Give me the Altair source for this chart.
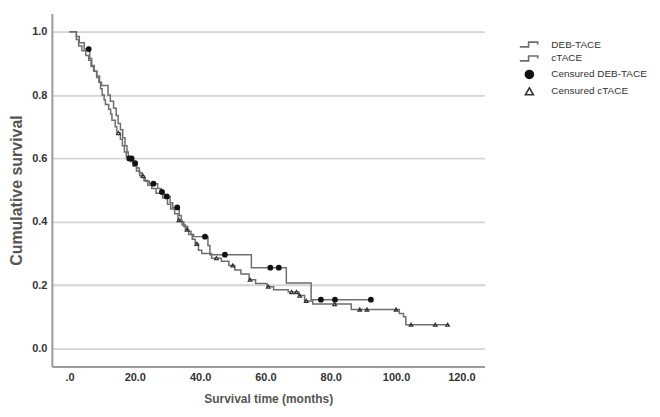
import altair as alt
import pandas as pd

# ---- Kaplan-Meier step data (time in months, cumulative survival) ----
deb_time = [0, 2.1, 3.0, 4.5, 6.2, 6.8, 7.6, 8.4, 9.2, 9.8, 11.8, 12.5, 13.5, 14.3, 14.9,
            15.6, 16.3, 17.0, 17.6, 18.0, 19.6, 20.6, 21.4, 22.2, 23.2, 24.5, 27.0, 28.0,
            29.0, 30.8, 31.6, 33.6, 34.2, 35.0, 36.2, 37.2, 38.0, 42.4, 43.0, 55.7, 66.4, 74.0]
deb_surv = [1.0, 0.985, 0.965, 0.945, 0.915, 0.893, 0.875, 0.86, 0.84, 0.83, 0.80, 0.78, 0.758,
            0.735, 0.71, 0.69, 0.665, 0.64, 0.62, 0.60, 0.585, 0.57, 0.555, 0.54, 0.528, 0.52,
            0.505, 0.494, 0.48, 0.46, 0.445, 0.42, 0.40, 0.385, 0.37, 0.36, 0.353, 0.325, 0.296,
            0.255, 0.207, 0.154]
deb_end = 92.3
deb_censor = [5.9, 18.3, 19.0, 20.1, 25.7, 28.3, 29.8, 33.0, 41.5, 47.6, 61.5, 64.1, 77.0, 81.3, 92.3]

ctace_time = [0, 2.1, 2.8, 3.8, 5.0, 5.9, 6.6, 7.4, 8.3, 9.0, 9.5, 10.0, 10.6, 11.0, 12.0, 12.6,
              13.0, 14.0, 14.5, 15.6, 16.2, 16.8, 17.4, 18.6, 19.5, 20.5, 21.5, 22.8, 24.0, 25.2,
              26.5, 28.5, 30.0, 31.0, 32.2, 33.2, 34.5, 35.5, 36.5, 37.6, 38.5, 39.5, 40.5, 43.5,
              46.5, 48.8, 50.6, 52.5, 55.0, 57.0, 60.5, 62.5, 67.0, 70.2, 72.0, 74.5, 86.3,
              101.0, 102.3, 103.0]
ctace_surv = [1.0, 0.975, 0.955, 0.94, 0.925, 0.91, 0.89, 0.875, 0.855, 0.84, 0.82, 0.80, 0.785,
              0.77, 0.755, 0.74, 0.72, 0.70, 0.68, 0.66, 0.64, 0.62, 0.605, 0.59, 0.575, 0.56,
              0.545, 0.53, 0.515, 0.505, 0.49, 0.475, 0.455, 0.44, 0.425, 0.405, 0.39, 0.375,
              0.36, 0.345, 0.33, 0.31, 0.30, 0.285, 0.275, 0.262, 0.248, 0.235, 0.217, 0.205,
              0.195, 0.185, 0.178, 0.167, 0.15, 0.14, 0.123, 0.11, 0.10, 0.075]
ctace_end = 115.8
ctace_censor = [15.0, 22.5, 33.5, 36.0, 39.0, 45.0, 50.0, 55.3, 60.9, 68.0, 69.5, 70.5, 72.5,
                81.2, 88.9, 91.1, 100.0, 104.6, 112.0, 115.8]

legend_labels = ["DEB-TACE", "cTACE", "Censured DEB-TACE", "Censured cTACE"]
x_ticks = [0, 20, 40, 60, 80, 100, 120]
y_ticks = [0.0, 0.2, 0.4, 0.6, 0.8, 1.0]


def lookup(times, survs, t):
    s = survs[0]
    for tt, ss in zip(times, survs):
        if tt <= t:
            s = ss
    return s


rows = []
for name, ts, ss, end in [("DEB-TACE", deb_time, deb_surv, deb_end),
                          ("cTACE", ctace_time, ctace_surv, ctace_end)]:
    for t, s in zip(ts, ss):
        rows.append({"group": name, "time": t, "surv": s})
    rows.append({"group": name, "time": end, "surv": ss[-1]})
lines_df = pd.DataFrame(rows)

prow = []
for t in deb_censor:
    prow.append({"legend": "Censured DEB-TACE", "time": t, "surv": lookup(deb_time, deb_surv, t), "sz": 20})
for t in ctace_censor:
    prow.append({"legend": "Censured cTACE", "time": t, "surv": lookup(ctace_time, ctace_surv, t), "sz": 12})
pts_df = pd.DataFrame(prow)

step_path = "M-2.4,0.6H-0.2V-0.6H2.1V0"

x_enc = alt.X("time:Q",
              scale=alt.Scale(domain=[-5.4, 127.1], nice=False, zero=False),
              axis=alt.Axis(values=x_ticks,
                            labelExpr="datum.value == 0 ? '.0' : format(datum.value, '.1f')",
                            grid=False, ticks=False, domainColor="#9a9a9a", domainWidth=2,
                            labelFont="Liberation Sans", labelFontWeight="bold", labelFontSize=11,
                            labelColor="#333333", labelPadding=5,
                            title="Survival time (months)", titleFont="Liberation Sans",
                            titleFontWeight="bold", titleFontSize=12, titleColor="#555555",
                            titlePadding=11))
y_enc = alt.Y("surv:Q",
              scale=alt.Scale(domain=[-0.057, 1.057], nice=False, zero=False),
              axis=alt.Axis(values=y_ticks, format=".1f", grid=True, gridColor="#d4d4d4",
                            gridWidth=1.8, ticks=False, domainColor="#9a9a9a", domainWidth=2,
                            labelFont="Liberation Sans", labelFontWeight="bold", labelFontSize=11,
                            labelColor="#333333", labelPadding=5,
                            title="Cumulative survival", titleFont="Liberation Sans",
                            titleFontWeight="bold", titleFontSize=16, titleColor="#555555",
                            titlePadding=7))

lines = alt.Chart(lines_df).mark_line(interpolate="step-after", color="#6e6e6e",
                                      strokeWidth=1.5).encode(
    x=x_enc, y=y_enc, detail="group:N")

leg = alt.Legend(title=None, orient="none", legendX=474, legendY=26, padding=0,
                 symbolSize=64, symbolStrokeWidth=1.6, labelOffset=17,
                 labelFont="Liberation Sans", labelFontSize=10, labelColor="#333333",
                 rowPadding=2)

points = alt.Chart(pts_df).mark_point(strokeWidth=1.3, opacity=1).encode(
    x=alt.X("time:Q"),
    y=alt.Y("surv:Q"),
    shape=alt.Shape("legend:N", scale=alt.Scale(domain=legend_labels,
                                                range=[step_path, step_path, "circle", "triangle-up"]),
                    legend=leg),
    fill=alt.Fill("legend:N", scale=alt.Scale(domain=legend_labels,
                                              range=["transparent", "transparent", "#111111", "#ffffff"]),
                  legend=leg),
    stroke=alt.Stroke("legend:N", scale=alt.Scale(domain=legend_labels,
                                                  range=["#6e6e6e", "#6e6e6e", "#111111", "#333333"]),
                      legend=leg),
    size=alt.Size("sz:Q", scale=None, legend=None),
)

chart = alt.layer(lines, points).properties(
    width=434, height=354, background="white",
    padding={"left": 0, "top": 5, "right": 5, "bottom": 5}
).configure_view(stroke=None)

chart.save("out.html", embed_options={"renderer": "svg", "actions": False})
